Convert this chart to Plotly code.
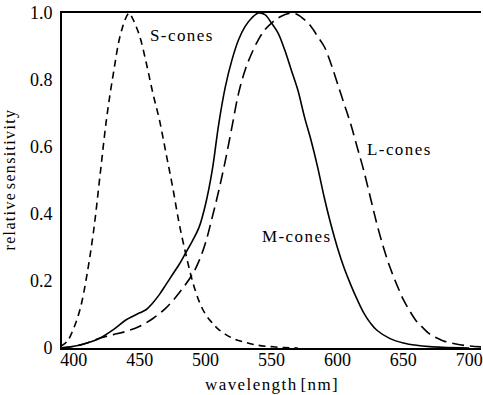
import plotly.graph_objects as go

# ---- data ----
s_wl = [390, 395, 400, 405, 410, 415, 420, 425, 430, 435, 440, 442, 445, 450, 455, 460, 465,
        470, 475, 480, 485, 490, 495, 500, 505, 510, 520, 530, 540, 550, 560, 570]
s_val = [0.005, 0.02, 0.06, 0.12, 0.22, 0.35, 0.52, 0.69, 0.82, 0.93, 0.99, 1.0, 0.98, 0.93,
         0.85, 0.76, 0.68, 0.58, 0.48, 0.37, 0.28, 0.20, 0.14, 0.10, 0.075, 0.055, 0.03,
         0.017, 0.008, 0.004, 0.001, 0.0]

m_wl = [390, 400, 410, 420, 430, 440, 450, 455, 460, 465, 470, 475, 480, 485, 490, 495, 500,
        505, 510, 515, 520, 525, 530, 535, 540, 545, 550, 555, 560, 565, 570, 575, 580, 585,
        590, 595, 600, 605, 610, 615, 620, 625, 630, 640, 650, 660, 670, 680, 700]
m_val = [0.0, 0.005, 0.015, 0.03, 0.055, 0.085, 0.105, 0.115, 0.135, 0.16, 0.19, 0.22, 0.25,
         0.285, 0.32, 0.36, 0.43, 0.53, 0.67, 0.78, 0.86, 0.92, 0.96, 0.985, 1.0, 0.995,
         0.97, 0.94, 0.89, 0.83, 0.77, 0.69, 0.62, 0.54, 0.45, 0.37, 0.30, 0.24, 0.19,
         0.145, 0.105, 0.075, 0.053, 0.028, 0.015, 0.008, 0.004, 0.002, 0.0]

l_wl = [390, 400, 410, 420, 430, 440, 450, 460, 470, 480, 490, 495, 500, 505, 510, 515, 520,
        525, 530, 535, 540, 545, 550, 555, 560, 565, 570, 575, 580, 585, 590, 595, 600, 605,
        610, 615, 620, 625, 630, 635, 640, 645, 650, 655, 660, 665, 670, 680, 690, 700, 710]
l_val = [0.0, 0.005, 0.015, 0.03, 0.04, 0.05, 0.065, 0.088, 0.12, 0.165, 0.22, 0.26, 0.315,
         0.39, 0.47, 0.56, 0.66, 0.76, 0.83, 0.88, 0.92, 0.95, 0.97, 0.985, 0.995, 1.0,
         0.995, 0.98, 0.96, 0.93, 0.90, 0.85, 0.79, 0.73, 0.67, 0.60, 0.53, 0.45, 0.37,
         0.30, 0.24, 0.19, 0.145, 0.11, 0.08, 0.06, 0.042, 0.022, 0.012, 0.006, 0.003]

x_ticks = [400, 450, 500, 550, 600, 650, 700]
y_ticks = [0, 0.2, 0.4, 0.6, 0.8, 1.0]
y_tick_text = ["0", "0.2", "0.4", "0.6", "0.8", "1.0"]

labels = ["S-cones", "M-cones", "L-cones"]
label_x = [456.0, 541.0, 621.0]
label_y = [0.934, 0.334, 0.594]

FONT = "Liberation Serif"
HS = "\u200a"  # hair space for letter-spacing


def spaced(s):
    return "&nbsp;".join(HS.join(w) for w in s.split(" "))


fig = go.Figure()
fig.add_trace(go.Scatter(x=s_wl, y=s_val, mode="lines", line_shape="spline",
                         line=dict(color="black", width=1.6, dash="7px,5px")))
fig.add_trace(go.Scatter(x=m_wl, y=m_val, mode="lines", line_shape="spline",
                         line=dict(color="black", width=1.6)))
fig.add_trace(go.Scatter(x=l_wl, y=l_val, mode="lines", line_shape="spline",
                         line=dict(color="black", width=1.6, dash="12px,6px")))

for t, x, y in zip(labels, label_x, label_y):
    fig.add_annotation(x=x, y=y, xref="x", yref="y", text=spaced(t), showarrow=False,
                       xanchor="left", yanchor="middle",
                       font=dict(family=FONT, size=17, color="black"))

fig.add_annotation(x=0.5, y=0, xref="paper", yref="paper", yshift=-25,
                   text=spaced("wavelength [nm]"),
                   showarrow=False, xanchor="center", yanchor="top",
                   font=dict(family=FONT, size=17, color="black"))
fig.add_annotation(x=0, y=0.5, xref="paper", yref="paper", xshift=-42,
                   text=spaced("relative sensitivity"),
                   textangle=-90, showarrow=False, xanchor="right", yanchor="middle",
                   font=dict(family=FONT, size=16, color="black"))

fig.update_layout(
    width=483, height=395,
    margin=dict(l=62, r=0, t=13, b=47),
    paper_bgcolor="white", plot_bgcolor="white",
    showlegend=False,
    font=dict(family=FONT, size=17, color="black"),
)
fig.update_xaxes(range=[391, 709], tickvals=x_ticks, ticks="", ticklen=0, showgrid=False,
                 zeroline=False, showline=True, linecolor="black", linewidth=2,
                 mirror=True, ticklabelstandoff=-6, ticklabeloverflow="allow",
                 tickfont=dict(family=FONT, size=18))
fig.update_yaxes(range=[0, 1], tickvals=y_ticks, ticktext=y_tick_text, ticks="", ticklen=0,
                 showgrid=False, zeroline=False, showline=True, linecolor="black",
                 linewidth=2, mirror=False, ticklabelstandoff=4,
                 tickfont=dict(family=FONT, size=18))

fig.write_html("out.html")
